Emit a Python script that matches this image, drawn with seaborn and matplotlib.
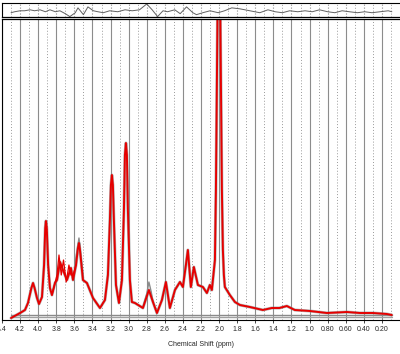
import matplotlib
matplotlib.use("Agg")
import matplotlib.pyplot as plt
import seaborn as sns

sns.set_style("white")
plt.rcParams['font.family'] = ['Liberation Sans', 'DejaVu Sans']

# ---- data ----
fit_ppm = [4.30, 4.20, 4.146, 4.113, 4.075, 4.057, 4.040, 4.013, 3.991, 3.958, 3.935, 3.922,
           3.914, 3.905, 3.890, 3.870,
           3.848, 3.814, 3.792, 3.759, 3.726, 3.682, 3.638, 3.615, 3.582, 3.560, 3.549, 3.538,
           3.505, 3.461,
           3.394, 3.317, 3.262, 3.229, 3.207, 3.196, 3.185, 3.174, 3.163, 3.140, 3.107, 3.074,
           3.052, 3.041, 3.030, 3.019, 3.008, 2.986, 2.964, 2.930, 2.842, 2.776, 2.731, 2.687,
           2.632, 2.588, 2.544, 2.488,
           2.433, 2.400, 2.367, 2.345, 2.312, 2.279, 2.234, 2.179, 2.135, 2.102, 2.080, 2.046,
           2.035, 2.024, 2.013, 2.002, 1.991, 1.980, 1.969, 1.958, 1.947, 1.936, 1.881, 1.825,
           1.770, 1.660, 1.516, 1.417, 1.333, 1.251, 1.163, 0.997, 0.809, 0.588, 0.444, 0.300,
           0.146, 0.091]
fit_int = [2, 7, 10, 17, 32, 37, 32, 22, 16, 23, 55, 92,
           99, 92, 55, 32,
           25, 37, 40, 58, 50, 40, 52, 40, 55, 72, 77, 70,
           40, 37,
           22, 12, 20, 45, 100, 135, 145, 135, 100, 35, 17, 40,
           110, 165, 177, 165, 110, 40, 18, 17, 12, 30, 18, 7,
           20, 38, 12, 30,
           38, 33, 55, 70, 33, 53, 35, 33, 27, 35, 30, 60,
           130, 240, 350, 390, 350, 240, 130, 70, 45, 33, 25, 18,
           15, 13, 10, 12, 12, 14, 10, 9, 7, 8, 7, 7,
           6, 5]

obs1_ppm = [3.60, 3.549, 3.50]
obs1_int = [52, 82, 42]
obs2_ppm = [2.842, 2.80, 2.776, 2.75, 2.731]
obs2_int = [13, 26, 38, 28, 18]

fit2_ppm = [3.848, 3.814, 3.792, 3.770, 3.745, 3.720, 3.690, 3.660, 3.638, 3.615, 3.582]
fit2_int = [25, 37, 45, 65, 45, 60, 38, 55, 45, 45, 55]

base_ppm = [4.30, 0.09]
base_int = [4, 4]

res_ppm = [4.30, 4.26, 4.20, 4.15, 4.09, 4.04, 3.98, 3.92, 3.87, 3.81, 3.76, 3.70, 3.65, 3.59,
           3.56, 3.50, 3.45, 3.39, 3.34, 3.28, 3.21, 3.12, 3.04, 2.96, 2.88, 2.80, 2.74, 2.68,
           2.62, 2.57, 2.49, 2.43, 2.36, 2.29, 2.25, 2.18, 2.10, 2.01, 1.94, 1.86, 1.77, 1.66,
           1.55, 1.46, 1.38, 1.30, 1.22, 1.13, 1.05, 0.97, 0.89, 0.80, 0.72, 0.64, 0.56, 0.47,
           0.39, 0.31, 0.22, 0.13, 0.09]
res_val = [-1, 0, 1, 1, 2, 1, 2, 0, 2, 0, 1, -2, -5, -1,
           4, -3, 5, 1, 0, -1, 1, 0, 2, 1, 2, 8, 2, -5,
           1, 0, 2, -2, 5, -1, -3, -1, 1, -1, 1, 4, 3, 1,
           -1, 2, 0, -1, 1, 0, 1, 0, 2, 0, -1, 1, 0, -1,
           0, -1, 0, 1, 0]

tick_pos = [4.4, 4.2, 4.0, 3.8, 3.6, 3.4, 3.2, 3.0, 2.8, 2.6, 2.4, 2.2, 2.0, 1.8, 1.6, 1.4,
            1.2, 1.0, 0.8, 0.6, 0.4, 0.2]
tick_lab = ["4.4", "4.2", "4.0", "3.8", "3.6", "3.4", "3.2", "3.0", "2.8", "2.6", "2.4", "2.2",
            "2.0", "1.8", "1.6", "1.4", "1.2", "1.0", "0.80", "0.60", "0.40", "0.20"]
minor_pos = [4.3, 4.1, 3.9, 3.7, 3.5, 3.3, 3.1, 2.9, 2.7, 2.5, 2.3, 2.1, 1.9, 1.7, 1.5, 1.3,
             1.1, 0.9, 0.7, 0.5, 0.3, 0.1]

W, H = 400, 354
fig = plt.figure(figsize=(W / 100, H / 100), dpi=100)
ax_r = fig.add_axes([2 / W, (H - 16.6) / H, 398 / W, 13.6 / H])
ax = fig.add_axes([2 / W, (H - 320) / H, 398 / W, 301 / H])

for a in (ax, ax_r):
    a.set_xlim(4.4, 0.0)
    for p in tick_pos:
        a.axvline(p, color="#8c8c8c", lw=0.8, ls="-" if a is ax else ":", zorder=0)
    for p in minor_pos:
        a.axvline(p, color="#9a9a9a", lw=0.7, ls=(0, (1, 2)), zorder=0)

# main panel
sns.lineplot(x=base_ppm, y=[v - 1 for v in base_int], ax=ax, color="#a0a0a0", lw=1.0, sort=False)
sns.lineplot(x=base_ppm, y=[v + 1 for v in base_int], ax=ax, color="#8a8a8a", lw=1.0, sort=False)
sns.lineplot(x=fit_ppm, y=fit_int, ax=ax, color="#8a8a8a", lw=2.2, sort=False, alpha=0.6)
sns.lineplot(x=obs1_ppm, y=obs1_int, ax=ax, color="#8a8a8a", lw=1.0, sort=False)
sns.lineplot(x=obs2_ppm, y=obs2_int, ax=ax, color="#8a8a8a", lw=1.0, sort=False)
sns.lineplot(x=fit2_ppm, y=fit2_int, ax=ax, color="#e60000", lw=0.9, sort=False)
sns.lineplot(x=fit_ppm, y=fit_int, ax=ax, color="#e60000", lw=1.4, sort=False)
ax.set_ylim(0, 301)
ax.set_yticks([])
ax.set_xticks(tick_pos)
ax.set_xticklabels(tick_lab, fontsize=5)
ax.tick_params(axis="x", length=2.5, width=0.6, pad=1.5, direction="out", bottom=True)
ax.set_xlabel("Chemical Shift (ppm)", fontsize=5, labelpad=6)
ax.spines["right"].set_visible(False)
ax.spines["top"].set_linewidth(0.9)
ax.spines["bottom"].set_linewidth(0.8)
ax.spines["left"].set_linewidth(0.8)
for s in ax.spines.values():
    s.set_color("black")

# residual panel
sns.lineplot(x=res_ppm, y=res_val, ax=ax_r, color="#606060", lw=0.7, sort=False)
ax_r.set_ylim(-5, 9)
ax_r.set_xticks([])
ax_r.set_yticks([])
ax_r.spines["right"].set_visible(False)
ax_r.spines["top"].set_linewidth(0.8)
ax_r.spines["bottom"].set_linewidth(0.9)
ax_r.spines["left"].set_linewidth(0.8)
for s in ax_r.spines.values():
    s.set_color("black")

fig.savefig("out.png", dpi=100)
